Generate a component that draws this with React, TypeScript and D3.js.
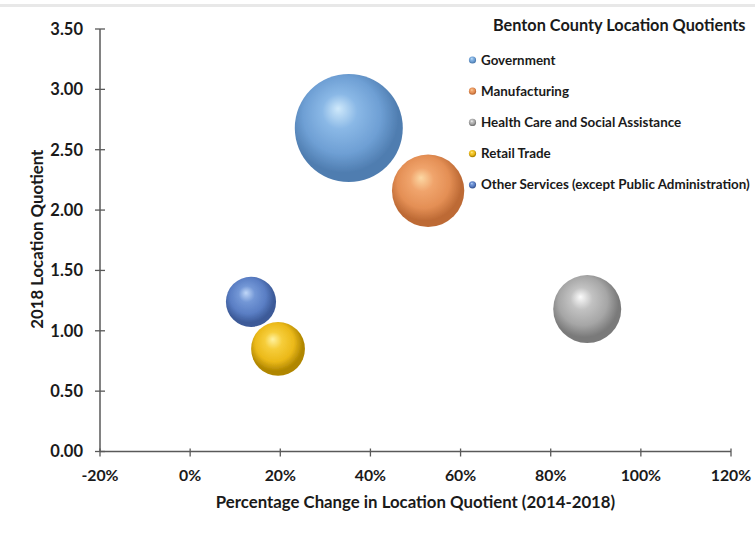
import React from "react";
import * as d3 from "d3";

const categories = [
  "Government",
  "Manufacturing",
  "Health Care and Social Assistance",
  "Retail Trade",
  "Other Services (except Public Administration)",
];
const pctChange = [0.352, 0.528, 0.881, 0.195, 0.135];
const locationQuotient = [2.68, 2.16, 1.18, 0.85, 1.24];
const bubbleSize = [2900, 1300, 1150, 720, 625];
const xTicks = [-0.2, 0, 0.2, 0.4, 0.6, 0.8, 1.0, 1.2];
const yTicks = [0, 0.5, 1, 1.5, 2, 2.5, 3, 3.5];

const palettes = [
  { hi: "#cfe9fb", mid: "#8ab8e6", base: "#6e9fd4", edge: "#4f7db0" },
  { hi: "#fcd8a4", mid: "#f0a46c", base: "#e48f55", edge: "#bd6a35" },
  { hi: "#fbfbfb", mid: "#c2c2c2", base: "#a6a6a6", edge: "#7a7a7a" },
  { hi: "#fff2a0", mid: "#f6cd3a", base: "#ebb919", edge: "#b08600" },
  { hi: "#c0d7f8", mid: "#7397d6", base: "#5a7ec4", edge: "#3c5a98" },
];

const W = 755;
const H = 541;
const plot = { left: 100, right: 731, top: 29, bottom: 451.5 };
const FONT = "Lato, 'Open Sans', sans-serif";
const AXIS = "#595959";

export default function App() {
  const x = d3.scaleLinear().domain([-0.2, 1.2]).range([plot.left, plot.right]);
  const y = d3.scaleLinear().domain([0, 3.5]).range([plot.bottom, plot.top]);
  const r = d3.scaleSqrt().domain([0, d3.max(bubbleSize) as number]).range([0, 54]);
  const pctFmt = (v: number) => d3.format(".0%")(v).replace("\u2212", "-");
  const yFmt = d3.format(".2f");

  const drawOrder = d3.range(categories.length).reverse();

  return (
    <svg
      width={W}
      height={H}
      style={{ position: "absolute", left: 0, top: 0, background: "#fff" }}
    >
      <defs>
        {palettes.map((p, i) => (
          <radialGradient key={i} id={`sph${i}`} cx="0.46" cy="0.42" r="0.6" fx="0.4" fy="0.32">
            <stop offset="0" stopColor={p.hi} />
            <stop offset="0.27" stopColor={p.mid} />
            <stop offset="0.6" stopColor={p.base} />
            <stop offset="0.85" stopColor={p.edge} />
            <stop offset="1" stopColor={p.edge} />
          </radialGradient>
        ))}
        <filter id="soft" x="-10%" y="-10%" width="120%" height="120%">
          <feGaussianBlur stdDeviation="0.6" />
        </filter>
      </defs>
      <rect x={0} y={0} width={W} height={H} fill="#fff" />
      <rect x={0} y={4} width={W} height={3} fill="#e8e8e8" />

      {/* y axis */}
      <line x1={plot.left} x2={plot.left} y1={plot.top} y2={plot.bottom} stroke={AXIS} strokeWidth={1.5} />
      {yTicks.map((t) => (
        <g key={t}>
          <line x1={plot.left - 5} x2={plot.left + 5} y1={y(t)} y2={y(t)} stroke={AXIS} strokeWidth={1.3} />
          <text
            x={plot.left - 17}
            y={y(t) + 5.8}
            textAnchor="end"
            fontFamily={FONT}
            fontWeight="bold"
            fontSize={16.5}
            fill="#1a1a1a"
          >
            {yFmt(t)}
          </text>
        </g>
      ))}

      {/* x axis */}
      <line x1={plot.left} x2={plot.right} y1={plot.bottom} y2={plot.bottom} stroke={AXIS} strokeWidth={1.5} />
      {xTicks.map((t) => (
        <g key={t}>
          <line x1={x(t)} x2={x(t)} y1={plot.bottom - 3} y2={plot.bottom + 5} stroke={AXIS} strokeWidth={1.3} />
          <text
            x={x(t)}
            y={481}
            textAnchor="middle"
            fontFamily={FONT}
            fontWeight="bold"
            fontSize={15.8}
            fill="#1a1a1a"
          >
            {pctFmt(t)}
          </text>
        </g>
      ))}

      <text
        x={(plot.left + plot.right) / 2}
        y={508}
        textAnchor="middle"
        fontFamily={FONT}
        fontWeight="bold"
        fontSize={16.8}
        fill="#1a1a1a"
      >
        Percentage Change in Location Quotient (2014-2018)
      </text>
      <text
        transform={`translate(43, ${(plot.top + plot.bottom) / 2 - 1}) rotate(-90)`}
        textAnchor="middle"
        fontFamily={FONT}
        fontWeight="bold"
        fontSize={16.8}
        fill="#1a1a1a"
      >
        2018 Location Quotient
      </text>

      {/* bubbles */}
      {drawOrder.map((i) => (
        <circle
          key={categories[i]}
          cx={x(pctChange[i])}
          cy={y(locationQuotient[i])}
          r={r(bubbleSize[i])}
          fill={`url(#sph${i})`}
          filter="url(#soft)"
        />
      ))}

      {/* legend */}
      <text x={493} y={31} fontFamily={FONT} fontWeight="bold" fontSize={16.3} fill="#1a1a1a">
        Benton County Location Quotients
      </text>
      {categories.map((c, i) => (
        <g key={c} transform={`translate(0, ${60 + i * 31.2})`}>
          <circle cx={472.5} cy={0} r={3.6} fill={`url(#sph${i})`} />
          <text x={481} y={4.6} fontFamily={FONT} fontWeight="bold" fontSize={13.4} fill="#1a1a1a">
            {c}
          </text>
        </g>
      ))}
    </svg>
  );
}
